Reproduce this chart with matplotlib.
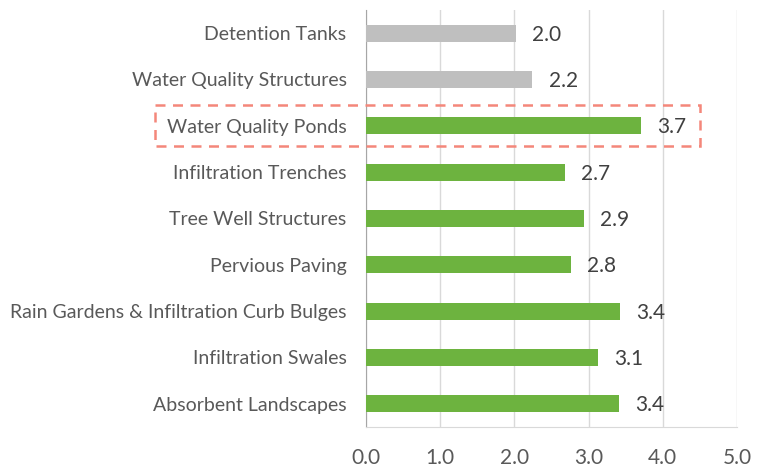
import matplotlib.pyplot as plt
from matplotlib.patches import Rectangle

plt.rcParams['font.family'] = ['Lato', 'DejaVu Sans']

# categories, top to bottom
categories = ['Detention Tanks', 'Water Quality Structures', 'Water Quality Ponds',
              'Infiltration Trenches', 'Tree Well Structures', 'Pervious Paving',
              'Rain Gardens & Infiltration Curb Bulges', 'Infiltration Swales',
              'Absorbent Landscapes']
scores = [2.02, 2.24, 3.70, 2.68, 2.94, 2.76, 3.42, 3.13, 3.41]
bar_colors = ['#bfbfbf', '#bfbfbf'] + ['#6db33f'] * 7
x_ticks = [0, 1, 2, 3, 4, 5]
highlight = 'Water Quality Ponds'

fig = plt.figure(figsize=(7.57, 4.68), dpi=100)
ax = fig.add_axes([366 / 757, 1 - 427 / 468, (737 - 366) / 757, (427 - 10) / 468])

y = list(range(len(categories)))
ax.barh(y, scores, height=0.37, color=bar_colors, zorder=3)
for yi, v in zip(y, scores):
    ax.text(v + 0.22, yi + 0.03, f'{v:.1f}', va='center', ha='left', fontsize=15, color='#404040')

ax.set_ylim(len(categories) - 0.5, -0.5)
ax.set_xlim(0, 5)
ax.set_yticks(y)
ax.set_yticklabels(categories, fontsize=14, color='#595959')
ax.set_xticks(x_ticks)
ax.set_xticklabels([f'{t:.1f}' for t in x_ticks], fontsize=15, color='#595959')
ax.tick_params(axis='both', length=0)
ax.tick_params(axis='y', pad=14)
ax.tick_params(axis='x', pad=15)

ax.grid(axis='x', color='#d9d9d9', linewidth=1, zorder=0)
for s in ['top', 'right']:
    ax.spines[s].set_visible(False)
ax.spines['left'].set_color('#a6a6a6')
ax.spines['bottom'].set_color('#d9d9d9')

# dashed box around highlighted row
hi = categories.index(highlight)
box = Rectangle((-2.84, hi - 0.45), 7.34, 0.89, fill=False, edgecolor='#f4877a',
                linestyle=(0, (4, 3)), linewidth=1.8, clip_on=False, zorder=4)
ax.add_patch(box)

fig.savefig('out.png', dpi=100)
